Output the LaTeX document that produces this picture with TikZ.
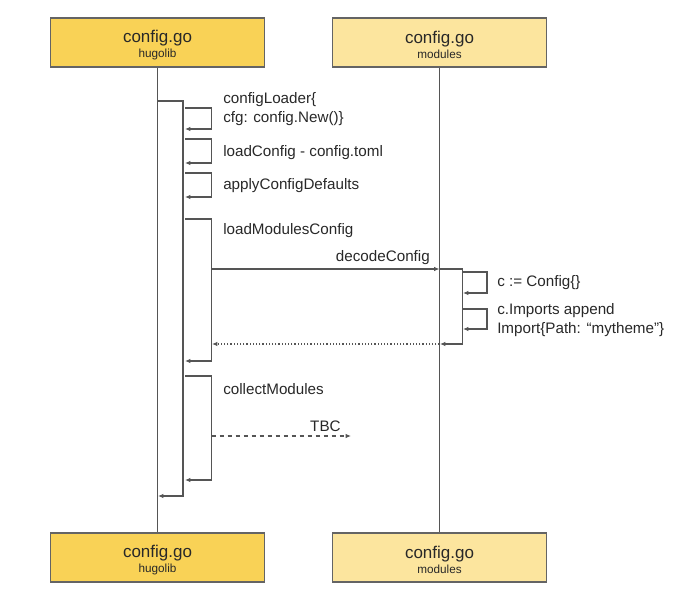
\documentclass[tikz,border=0pt]{standalone}
\usepackage{fontspec}
\setmainfont{Liberation Sans}
\usetikzlibrary{arrows.meta, positioning}
\definecolor{lineGray}{RGB}{85,85,85}
\definecolor{boxGray}{RGB}{100,100,100}
\definecolor{txtGray}{RGB}{40,40,40}
\definecolor{goldFill}{RGB}{249,210,86}
\definecolor{paleFill}{RGB}{252,229,158}

\begin{document}
\begin{tikzpicture}[x=0.75pt, y=-0.75pt,
    line/.style={draw=lineGray, line width=0.9pt},
    msg/.style={line, -{Latex[length=4pt, width=3.4pt]}},
    objbox/.style={draw=boxGray, line width=0.9pt, minimum width=160pt, minimum height=36.75pt, inner sep=0pt},
    hdr/.style={align=center, inner sep=0pt, text=txtGray, yshift=-1.8pt,
        font=\fontsize{12.75}{14}\selectfont},
    lbl/.style={anchor=west, align=left, inner sep=0pt, text=txtGray,
        font=\fontsize{11.4}{14}\selectfont}]
    \useasboundingbox (0,0) rectangle (683,596);

    % objects
    \node[objbox, fill=goldFill, label={[hdr]center:config.go\\[-2.5pt]{\fontsize{8.8}{10}\selectfont hugolib}}] (hugoTop) at (157.5,42.5) {};
    \node[objbox, fill=paleFill, label={[hdr]center:config.go\\[-2.5pt]{\fontsize{8.8}{10}\selectfont modules}}] (modTop) at (439.5,42.5) {};
    \node[objbox, fill=goldFill, label={[hdr]center:config.go\\[-2.5pt]{\fontsize{8.8}{10}\selectfont hugolib}}] (hugoBot) at (157.5,557.5) {};
    \node[objbox, fill=paleFill, label={[hdr]center:config.go\\[-2.5pt]{\fontsize{8.8}{10}\selectfont modules}}] (modBot) at (439.5,557.5) {};

    % lifelines
    \draw[line] (hugoTop) -- (hugoBot);
    \draw[line] (modTop) -- (modBot);

    % outer activation of hugolib
    \coordinate (H0) at (157.5,101);
    \coordinate (H1) at (158,496);
    \draw[msg] (H0) -- ++(25.5,0) |- (H1);

    % self calls on hugolib
    \foreach \top/\bot [count=\i] in {108/129, 139/163, 173/197, 219/361, 376/480} {
        \coordinate (S\i) at (185,\top);
        \coordinate (E\i) at (185,\bot);
        \draw[msg] (S\i) -- ++(26.5,0) |- (E\i);
    }
    \node[lbl] (t1) at (223,109) {configLoader\{\\cfg: config.New()\}};
    \node[lbl] (t2) at (223,153) {loadConfig - config.toml};
    \node[lbl] (t3) at (223,186) {applyConfigDefaults};
    \node[lbl] (t4) at (223,231) {loadModulesConfig};
    \node[lbl] (t5) at (223,389) {collectModules};

    % call into modules
    \coordinate (D0) at (211.5,269);
    \coordinate (D1) at (439.5,269);
    \draw[msg] (D0) -- (D1) node[lbl, anchor=south east, pos=0.96, yshift=3pt] (td) {decodeConfig};

    % activation of modules
    \coordinate (M1) at (440,344);
    \draw[msg] (D1) -- ++(23,0) |- (M1);
    \foreach \top/\bot [count=\i] in {272/293, 309/329} {
        \coordinate (R\i) at (463,\top);
        \coordinate (Q\i) at (463,\bot);
        \draw[msg] (R\i) -- ++(24,0) |- (Q\i);
    }
    \node[lbl] (t6) at (497,283) {c := Config\{\}};
    \node[lbl] (t7) at (497,320) {c.Imports append\\Import\{Path: “mytheme”\}};

    % return
    \coordinate (B0) at (439.5,344);
    \coordinate (B1) at (212,344);
    \draw[msg, dash pattern=on 0.8pt off 1.6pt] (B0) -- (B1);

    % to be continued
    \coordinate (T0) at (211.5,436);
    \coordinate (T1) at (351,436);
    \draw[msg, dashed] (T0) -- (T1) node[lbl, anchor=south east, pos=0.93, yshift=3pt] (tt) {TBC};
\end{tikzpicture}
\end{document}
